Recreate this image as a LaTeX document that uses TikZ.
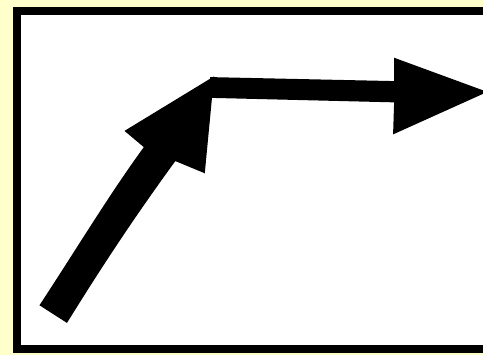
\documentclass[tikz,border=0pt]{standalone}
\definecolor{bgyellow}{RGB}{255,255,204}
\tikzset{arrowshape/.style={fill=black,draw=black,line width=0.5pt,line join=miter}}
\begin{document}
\begin{tikzpicture}[x=0.01cm,y=-0.01cm]
\useasboundingbox (0,0) rectangle (483,355);
\clip (0,0) rectangle (483,355);
\fill[bgyellow] (0,0) rectangle (483,355);
\fill[white] (17,11.5) rectangle (500,348.5);
\draw[line width=8*0.01cm] (17,11.5) rectangle (500,348.5);
% first arrow (up-right)
\coordinate (t1) at (40.7,305);
\coordinate (t2) at (66.7,321.7);
\coordinate (s1) at (145,147);
\coordinate (s2) at (175,160);
\coordinate (b1) at (126,131);
\coordinate (b2) at (204,172);
\coordinate (tip1) at (213,78);
\fill[arrowshape] (t1) .. controls (80,245) and (110,195) .. (s1) -- (b1) -- (tip1) -- (b2) -- (s2) .. controls (135,215) and (105,260) .. (t2) -- cycle;
% second arrow (right)
\coordinate (u1) at (211,78);
\coordinate (u2) at (211,97);
\coordinate (v1) at (395,82);
\coordinate (v2) at (395,101.5);
\coordinate (c1) at (395,59);
\coordinate (c2) at (394,133);
\coordinate (tip2) at (485,92);
\fill[arrowshape] (u1) -- (v1) -- (c1) -- (tip2) -- (c2) -- (v2) -- (u2) -- cycle;
\end{tikzpicture}
\end{document}
